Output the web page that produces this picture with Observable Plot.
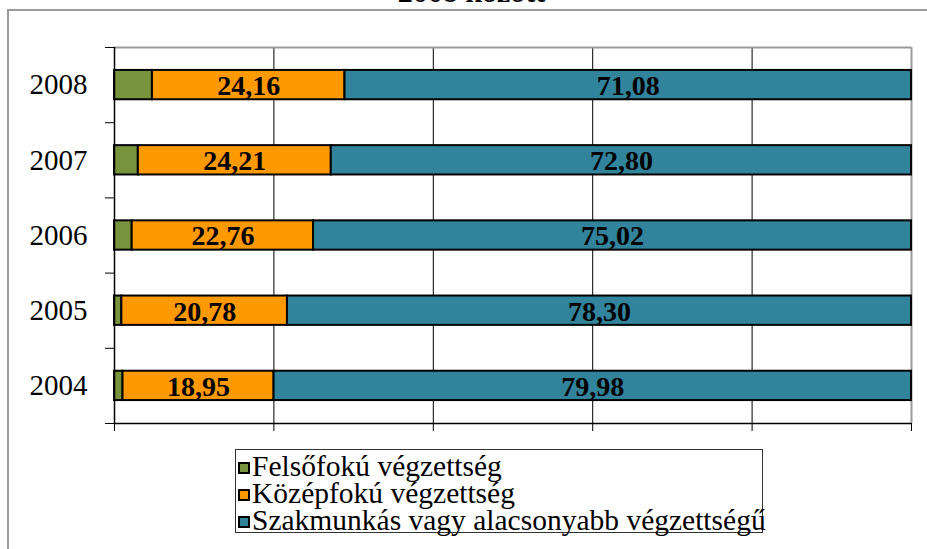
<!DOCTYPE html>
<html>
<head>
<meta charset="utf-8">
<script src="https://cdn.jsdelivr.net/npm/d3@7"></script>
<script src="https://cdn.jsdelivr.net/npm/@observablehq/plot@0.6"></script>
<style>
  html, body { margin: 0; padding: 0; background: #fff; }
  #wrap { position: relative; width: 927px; height: 549px; overflow: hidden; background: #fff; font-family: "Liberation Serif", "Times New Roman", serif; }
  #frame { position: absolute; left: 7px; top: 9px; width: 1000px; height: 1000px; border: 2px solid #9a9a9a; box-sizing: border-box; }
  #title { position: absolute; left: 0; width: 943px; top: -23px; text-align: center; font-weight: bold; font-size: 30px; line-height: 30px; color: #000; }
  #chart { position: absolute; left: 0; top: 0; }
  #legend { position: absolute; left: 235px; top: 449px; width: 528px; height: 84px; border: 1px solid #333; box-sizing: border-box; background: #fff; padding-top: 3px; }
  .item { display: flex; align-items: center; height: 27px; font-size: 29.5px; line-height: 27px; color: #000; padding-left: 2px; white-space: nowrap; }
  .sw { width: 8px; height: 8px; border: 2px solid #000; margin-right: 2px; margin-top: 2px; flex: none; }
</style>
</head>
<body>
<div id="wrap">
  <div id="frame"></div>
  <div id="title">2008 között</div>
  <div id="chart"></div>
  <div id="legend"></div>
</div>
<script>
const years = [2004, 2005, 2006, 2007, 2008];
const categories = ["Felsőfokú végzettség", "Középfokú végzettség", "Szakmunkás vagy alacsonyabb végzettségű"];
const felsofoku = [1.07, 0.92, 2.22, 2.99, 4.76];
const kozepfoku = [18.95, 20.78, 22.76, 24.21, 24.16];
const szakmunkas = [79.98, 78.30, 75.02, 72.80, 71.08];
const colors = ["#77933C", "#FF9900", "#31849B"];
const xTicks = [0, 20, 40, 60, 80, 100];

const series = [felsofoku, kozepfoku, szakmunkas];
const data = [];
years.forEach((year, i) => {
  categories.forEach((cat, j) => {
    data.push({year, cat, value: series[j][i], labeled: j > 0});
  });
});
const bounds = [years[0] - 0.5, ...years.map(y => y + 0.5)];
const half = 0.195;
const fmt = v => v.toFixed(2).replace(".", ",");
const font = "'Liberation Serif', 'Times New Roman', serif";

const chart = Plot.plot({
  width: 927,
  height: 440,
  marginLeft: 114,
  marginRight: 16,
  marginTop: 47,
  marginBottom: 17,
  style: {fontFamily: font, background: "transparent", color: "#000"},
  x: {domain: [0, 100]},
  y: {domain: [bounds[0], bounds[bounds.length - 1]]},
  color: {domain: categories, range: colors},
  marks: [
    Plot.gridX(xTicks.slice(1, -1), {stroke: "#000", strokeOpacity: 1, strokeWidth: 1}),
    Plot.ruleY([bounds[bounds.length - 1]], {stroke: "#9a9a9a", strokeWidth: 2}),
    Plot.ruleX([100], {stroke: "#9a9a9a", strokeWidth: 2}),
    Plot.rectX(data, Plot.stackX({
      x: "value",
      y1: d => d.year - half,
      y2: d => d.year + half,
      fill: "cat",
      stroke: "#000",
      strokeWidth: 2
    })),
    Plot.text(data, Plot.stackX({
      x: "value",
      y: "year",
      text: d => d.labeled ? fmt(d.value) : "",
      fontWeight: "bold",
      fontSize: 28,
      fill: "#000",
      dy: 1
    })),
    Plot.ruleX([0], {stroke: "#000", strokeWidth: 1.5}),
    Plot.ruleY([bounds[0]], {stroke: "#000", strokeWidth: 1.5}),
    Plot.axisX({ticks: xTicks, tickSize: 8, tickFormat: () => "", label: null, stroke: "#000", strokeWidth: 1}),
    Plot.axisY({ticks: bounds, tickSize: 9, tickFormat: () => "", label: null, stroke: "#000", strokeWidth: 1}),
    Plot.axisY({ticks: years, tickSize: 0, tickPadding: 27, tickFormat: d => String(d), label: null, fontSize: 29, fill: "#000"})
  ]
});
document.getElementById("chart").appendChild(chart);

const legend = document.getElementById("legend");
categories.forEach((cat, j) => {
  const item = document.createElement("div");
  item.className = "item";
  const sw = document.createElement("span");
  sw.className = "sw";
  sw.style.background = colors[j];
  const label = document.createElement("span");
  label.textContent = cat;
  item.appendChild(sw);
  item.appendChild(label);
  legend.appendChild(item);
});
</script>
</body>
</html>
